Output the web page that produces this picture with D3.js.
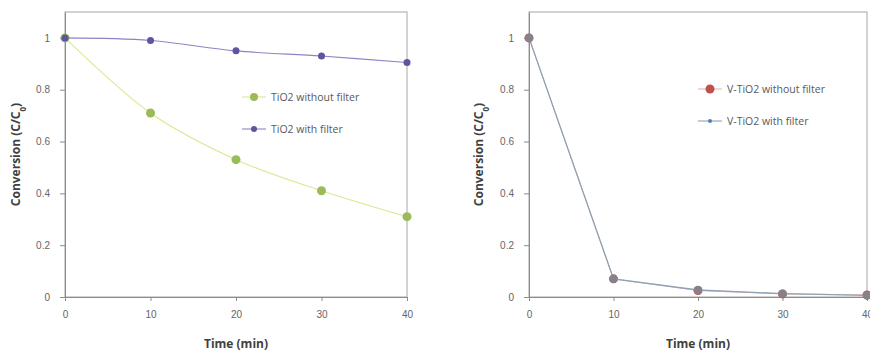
<!DOCTYPE html>
<html>
<head>
<meta charset="utf-8">
<script src="https://cdn.jsdelivr.net/npm/d3@7"></script>
<style>
  html, body { margin: 0; padding: 0; background: #fff; }
  svg { display: block; font-family: "Open Sans", "Noto Sans", sans-serif; }
</style>
</head>
<body>
<svg id="chart" width="870" height="355"></svg>
<script>
// Sampling times (min)
const times = [0, 10, 20, 30, 40];
const xTicks = [0, 10, 20, 30, 40];
const yTicks = [0, 0.2, 0.4, 0.6, 0.8, 1];

// Left panel: bare TiO2
const tio2NoFilter = [1, 0.71, 0.53, 0.41, 0.31];
const tio2Filter = [1, 0.99, 0.95, 0.93, 0.905];

// Right panel: V-doped TiO2
const vtio2NoFilter = [1, 0.07, 0.025, 0.012, 0.008];
const vtio2Filter = [1, 0.07, 0.027, 0.013, 0.006];

const svg = d3.select("#chart");

function panel(cfg) {
  const x = d3.scaleLinear().domain([0, 40]).range([cfg.left, cfg.right]);
  const y = d3.scaleLinear().domain([0, 1.1]).range([297, 12]);
  const g = svg.append("g");

  // plot frame
  g.append("rect")
    .attr("x", cfg.left).attr("y", y(1.1))
    .attr("width", cfg.right - cfg.left).attr("height", y(0) - y(1.1))
    .attr("fill", "none").attr("stroke", "#a6a6a6").attr("stroke-width", 1);

  // axes
  const xAxis = d3.axisBottom(x).tickValues(xTicks).tickSize(4).tickSizeOuter(0).tickPadding(10);
  const yAxis = d3.axisLeft(y).tickValues(yTicks).tickSize(5).tickSizeOuter(0).tickPadding(10)
    .tickFormat(d => d === 1 ? "1" : d === 0 ? "0" : d3.format(".1f")(d));
  const gx = g.append("g").attr("transform", `translate(0,${y(0)})`).call(xAxis);
  const gy = g.append("g").attr("transform", `translate(${cfg.left},0)`).call(yAxis);
  [gx, gy].forEach(a => {
    a.select(".domain").attr("stroke", "#8c8c8c");
    a.selectAll(".tick line").attr("stroke", "#8c8c8c");
    a.selectAll(".tick text").attr("fill", "#666").style("font-size", "10px");
  });

  // axis titles
  g.append("text")
    .attr("x", (cfg.left + cfg.right) / 2).attr("y", 348)
    .attr("text-anchor", "middle").attr("fill", "#404040")
    .style("font-size", "12px").style("font-weight", "bold")
    .text("Time (min)");
  const yt = g.append("text")
    .attr("transform", `translate(${cfg.ytitleX},${(y(0) + y(1.1)) / 2}) rotate(-90)`)
    .attr("text-anchor", "middle").attr("fill", "#404040")
    .style("font-size", "12px").style("font-weight", "bold");
  yt.append("tspan").text("Conversion (C/C");
  yt.append("tspan").attr("baseline-shift", "sub").style("font-size", "8px").text("0");
  yt.append("tspan").text(")");

  // series
  cfg.series.forEach(s => {
    const pts = times.map((t, i) => [t, s.values[i]]);
    const line = d3.line().x(d => x(d[0])).y(d => y(d[1])).curve(s.curve);
    g.append("path").datum(pts)
      .attr("d", line).attr("fill", "none")
      .attr("stroke", s.lineColor).attr("stroke-width", s.lineWidth || 1.1);
    g.selectAll(null).data(pts).enter().append("circle")
      .attr("cx", d => x(d[0])).attr("cy", d => y(d[1]))
      .attr("r", s.r).attr("fill", s.plotMarker || s.marker);
  });

  // legend
  cfg.series.forEach((s, i) => {
    const ly = cfg.legendY + i * 32;
    g.append("line")
      .attr("x1", cfg.legendX - 12).attr("x2", cfg.legendX + 12)
      .attr("y1", ly).attr("y2", ly)
      .attr("stroke", s.lineColor).attr("stroke-width", 1.1);
    g.append("circle").attr("cx", cfg.legendX).attr("cy", ly)
      .attr("r", s.legendR).attr("fill", s.marker);
    g.append("text")
      .attr("x", cfg.legendX + 17).attr("y", ly + 3.5)
      .attr("fill", "#595959").style("font-size", "10.5px")
      .text(s.name);
  });
}

panel({
  left: 65, right: 407, ytitleX: 20,
  legendX: 254, legendY: 97,
  series: [
    { name: "TiO2 without filter", values: tio2NoFilter, marker: "#9bbb59",
      lineColor: "#d8ea92", r: 4.5, legendR: 4, curve: d3.curveCatmullRom },
    { name: "TiO2 with filter", values: tio2Filter, marker: "#5d569e",
      lineColor: "#8a86c4", r: 3.5, legendR: 3, curve: d3.curveCatmullRom }
  ]
});

panel({
  left: 529, right: 867, ytitleX: 483,
  legendX: 710, legendY: 89,
  series: [
    { name: "V-TiO2 without filter", values: vtio2NoFilter, marker: "#c0504d",
      lineColor: "#e2b4b8", lineWidth: 1, r: 4.5, legendR: 4.5, curve: d3.curveLinear },
    { name: "V-TiO2 with filter", values: vtio2Filter, marker: "#4f81bd",
      plotMarker: "#85828a", lineColor: "#8ea2b4", lineWidth: 1.3, r: 4.2, legendR: 2, curve: d3.curveLinear }
  ]
});
</script>
</body>
</html>
